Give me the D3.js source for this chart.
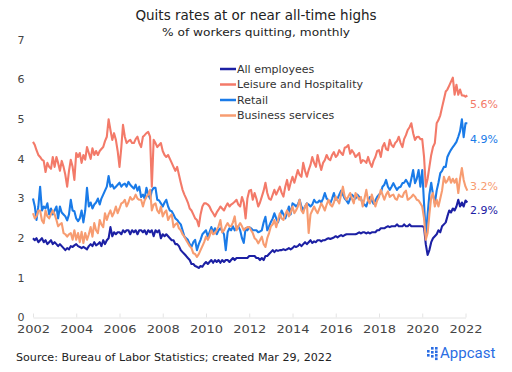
<!DOCTYPE html>
<html>
<head>
<meta charset="utf-8">
<script src="https://cdn.jsdelivr.net/npm/d3@7"></script>
<style>
  body { margin: 0; background: #fff; }
  svg { display: block; font-family: "DejaVu Sans", sans-serif; }
</style>
</head>
<body>
<svg id="chart" width="512" height="372"></svg>
<script>
// monthly quits rate, % — Jan 2002 to Feb 2022
let allEmployees = [
  2.0, 1.95, 2.0, 1.9, 1.95, 2.0, 1.9, 1.95, 1.85, 1.9, 1.95, 1.85,
  1.9, 1.85, 1.8, 1.85, 1.8, 1.75, 1.7, 1.75, 1.72, 1.8, 1.78, 1.82,
  1.85, 1.8, 1.78, 1.75, 1.78, 1.75, 1.72, 1.8, 1.85, 1.8, 1.9, 1.82,
  1.85, 1.9, 1.8, 1.95, 1.85, 1.95, 2.0, 2.28, 2.05, 2.15, 2.1, 2.15,
  2.15, 2.1, 2.2, 2.15, 2.2, 2.2, 2.1, 2.2, 2.15, 2.2, 2.1, 2.2,
  2.2, 2.15, 2.2, 2.1, 2.2, 2.15, 2.2, 2.05, 2.2, 2.15, 2.2, 2.0,
  2.1, 2.05, 2.1, 2.05, 2.0, 1.95, 1.95, 1.85, 1.85, 1.8, 1.7, 1.65,
  1.6, 1.55, 1.5, 1.45, 1.35, 1.35, 1.3, 1.28, 1.25, 1.3, 1.28, 1.35,
  1.4, 1.35, 1.4, 1.45, 1.38, 1.45, 1.4, 1.45, 1.38, 1.45, 1.4, 1.45,
  1.45, 1.4, 1.45, 1.5, 1.45, 1.5, 1.5, 1.5, 1.5, 1.5, 1.5, 1.5,
  1.55, 1.55, 1.55, 1.55, 1.5, 1.5, 1.45, 1.5, 1.45, 1.55, 1.55, 1.6,
  1.65, 1.7, 1.65, 1.7, 1.68, 1.7, 1.7, 1.72, 1.7, 1.72, 1.75, 1.72,
  1.75, 1.8, 1.78, 1.8, 1.85, 1.8, 1.85, 1.9, 1.85, 1.9, 1.95, 1.88,
  1.92, 1.9, 1.95, 1.95, 1.92, 1.95, 1.95, 1.98, 2.0, 1.98, 2.0, 2.02,
  2.05, 2.02, 2.05, 2.08, 2.05, 2.08, 2.1, 2.1, 2.1, 2.1, 2.1, 2.1,
  2.12, 2.15, 2.12, 2.15, 2.15, 2.12, 2.15, 2.12, 2.15, 2.15, 2.15, 2.2,
  2.2, 2.25, 2.25, 2.25, 2.28, 2.3, 2.28, 2.3, 2.3, 2.3, 2.35, 2.3,
  2.3, 2.3, 2.35, 2.3, 2.3, 2.35, 2.3, 2.3, 2.3, 2.3, 2.3, 2.3,
  2.3, 2.28, 1.85, 1.58, 1.7, 1.9, 2.0, 2.05, 2.1, 2.2, 2.15, 2.3,
  2.35, 2.4, 2.55, 2.7, 2.65, 2.75, 2.7, 2.8, 2.97, 2.8, 2.9, 2.8,
  2.95, 2.9
];

let leisure = [
  4.43, 4.35, 4.22, 4.1, 4.05, 3.98, 3.95, 3.67, 3.9, 3.8, 3.75, 4.05,
  3.8, 4.05, 3.9, 3.7, 3.95, 3.8, 3.6, 3.3, 3.7, 3.98, 3.8, 3.47,
  4.15, 4.05, 4.15, 3.9, 4.1, 3.98, 4.3, 4.15, 4.0, 4.27, 4.1, 4.2,
  4.1, 4.2, 4.25, 4.3, 4.45, 4.56, 5.0, 4.73, 4.48, 4.65, 4.48, 4.2,
  3.8, 4.3, 4.86, 4.56, 4.4, 4.45, 4.48, 4.4, 4.4, 4.5, 4.56, 4.4,
  4.3, 4.56, 4.6, 4.65, 4.68, 4.56, 3.3, 4.48, 4.4, 4.3, 4.35, 4.4,
  4.2, 4.1, 4.05, 4.1, 4.0, 3.9, 3.8, 3.7, 3.8, 3.6, 3.4, 3.22,
  3.1, 3.0, 2.9, 2.75, 2.7, 2.6, 2.5, 2.46, 2.3, 2.6, 2.8, 2.88,
  2.88, 2.85, 2.8, 2.7, 2.63, 2.55, 2.65, 2.72, 2.8, 2.75, 2.7, 2.8,
  2.88, 2.8, 2.85, 2.88, 2.92, 2.97, 2.85, 2.8, 3.04, 2.9, 2.5, 3.0,
  3.2, 3.22, 2.97, 3.14, 3.0, 2.8, 2.9, 3.05, 3.2, 3.4, 3.14, 3.0,
  2.97, 3.1, 3.22, 3.1, 3.2, 3.3, 3.15, 3.05, 3.3, 3.47, 3.22, 3.4,
  3.55, 3.4, 3.55, 3.72, 3.6, 3.55, 3.9, 3.7, 3.55, 3.72, 3.85, 4.05,
  3.9, 3.8, 4.1, 3.9, 3.72, 3.9, 3.97, 4.1, 4.0, 3.97, 4.1, 4.17,
  4.05, 4.1, 4.22, 4.15, 4.1, 4.28, 4.3, 4.35, 4.13, 4.22, 4.15, 4.05,
  4.1, 4.15, 3.9, 3.97, 3.95, 3.9, 4.05, 3.9, 3.8, 3.95, 4.05, 4.2,
  4.22, 4.05, 4.3, 4.4, 4.25, 4.22, 4.48, 4.35, 4.3, 4.4, 4.45, 4.56,
  4.4, 4.3, 4.5, 4.6, 4.73, 4.8, 4.9, 4.65, 4.48, 4.55, 4.56, 4.5,
  4.5, 4.05, 3.3, 3.5, 3.8, 4.1, 4.3, 4.4, 4.9, 4.98, 5.1, 5.3,
  5.5, 5.7, 5.75, 5.85, 5.95, 6.05, 5.62, 5.87, 5.62, 5.75, 5.6, 5.6,
  5.57, 5.6
];

let retail = [
  3.0, 2.8, 2.46, 2.8, 3.3, 2.7, 2.8, 2.75, 2.88, 2.6, 2.75, 2.6,
  2.7, 2.8, 2.5, 2.8, 2.65, 2.6, 2.55, 2.45, 2.6, 2.97, 2.7, 2.68,
  2.5, 2.43, 2.5, 2.7, 2.4, 2.7, 3.27, 2.8, 2.9, 2.75, 2.85, 2.9,
  3.0, 2.85, 3.0, 3.1, 3.2, 3.3, 3.57, 3.3, 3.35, 3.25, 3.3, 3.35,
  3.4, 3.3, 3.35, 3.38, 3.3, 3.42, 3.35, 3.3, 3.25, 3.35, 3.2, 3.3,
  3.04, 3.1, 3.0, 3.27, 3.1, 3.0, 3.2, 3.27, 3.27, 2.97, 2.95, 2.88,
  2.8, 2.9, 2.97, 2.8, 2.7, 2.68, 2.6, 2.5, 2.46, 2.4, 2.35, 2.2,
  2.04, 2.0, 1.96, 1.85, 1.78, 1.9, 1.96, 1.7, 1.85, 1.96, 2.1, 2.15,
  2.2, 2.04, 2.15, 2.28, 2.15, 2.25, 2.1, 2.2, 2.25, 2.18, 2.1, 1.7,
  2.15, 2.25, 2.2, 2.3, 2.2, 2.25, 2.3, 2.2, 2.0, 1.88, 2.25, 2.2,
  2.28, 2.25, 2.2, 2.2, 2.2, 2.15, 2.17, 2.2, 2.4, 2.54, 2.2, 2.3,
  2.41, 2.5, 2.63, 2.5, 2.4, 2.55, 2.7, 2.6, 2.5, 2.65, 2.8, 2.6,
  2.88, 2.85, 2.8, 2.85, 2.97, 2.8, 2.7, 2.8, 2.88, 2.85, 2.8, 2.85,
  2.97, 2.9, 2.9, 2.95, 2.9, 3.0, 3.14, 3.0, 2.95, 2.88, 3.0, 3.14,
  2.97, 3.0, 3.1, 3.2, 3.1, 3.0, 2.95, 2.88, 3.0, 3.1, 3.05, 3.0,
  3.1, 3.04, 3.0, 2.87, 2.85, 2.8, 2.95, 3.04, 2.95, 2.87, 2.95, 3.04,
  3.1, 3.14, 3.3, 3.35, 3.47, 3.3, 3.22, 3.3, 3.39, 3.3, 3.22, 3.28,
  3.3, 3.39, 3.4, 3.47, 3.4, 3.3, 3.5, 3.72, 3.39, 3.5, 3.72, 3.3,
  3.72, 2.87, 2.08, 2.6, 3.1, 3.4, 3.1, 2.88, 3.2, 3.4, 3.64, 3.7,
  3.8, 3.8, 4.05, 4.15, 4.23, 4.3, 4.36, 4.43, 4.56, 4.7, 5.0, 4.55,
  4.9, 4.9
];

let business = [
  2.63, 2.5, 2.55, 2.7, 2.7, 2.45, 2.38, 2.7, 2.55, 2.5, 2.6, 2.7,
  2.6, 2.46, 2.3, 2.35, 2.38, 2.13, 2.1, 2.04, 2.1, 2.13, 1.96, 2.2,
  1.96, 2.13, 1.9, 2.16, 1.88, 2.13, 1.96, 2.1, 2.28, 2.04, 2.38, 2.2,
  2.13, 2.46, 2.35, 2.28, 2.63, 2.46, 2.6, 2.7, 2.55, 2.65, 2.8, 2.63,
  2.75, 2.88, 2.9, 2.97, 2.8, 2.9, 3.04, 2.97, 3.0, 3.1, 3.0, 2.97,
  2.97, 2.8, 2.95, 3.04, 3.1, 3.22, 2.7, 2.85, 2.88, 2.7, 2.63, 2.8,
  2.55, 2.65, 2.7, 2.46, 2.55, 2.6, 2.28, 2.35, 2.38, 2.25, 2.2, 2.1,
  2.04, 1.95, 1.88, 1.8, 1.75, 1.62, 1.6, 1.53, 1.6, 1.7, 1.8, 1.9,
  2.04, 1.96, 2.05, 2.2, 2.1, 2.13, 2.2, 2.3, 2.46, 2.15, 2.2, 2.3,
  2.38, 2.3, 2.3, 2.4, 2.55, 2.2, 2.3, 2.38, 2.3, 2.2, 2.25, 2.28,
  2.28, 2.2, 2.13, 2.0, 1.96, 1.87, 1.95, 2.04, 1.85, 1.78, 2.0, 2.13,
  2.3, 2.35, 2.46, 2.28, 2.45, 2.63, 2.5, 2.46, 2.6, 2.7, 2.55, 2.65,
  2.8, 2.63, 2.7, 2.8, 2.97, 2.7, 2.63, 2.8, 2.88, 2.13, 2.6, 2.7,
  2.8, 2.7, 2.63, 2.75, 2.88, 2.8, 2.7, 2.85, 2.97, 2.85, 2.8, 2.9,
  3.05, 2.95, 2.88, 3.1, 3.3, 3.05, 2.97, 3.05, 3.14, 3.0, 2.88, 3.14,
  3.05, 2.97, 3.04, 2.8, 3.0, 3.22, 2.95, 2.88, 3.1, 2.95, 2.8, 2.95,
  3.04, 3.22, 3.1, 2.97, 3.1, 3.18, 3.04, 3.08, 3.1, 3.0, 2.97, 3.1,
  3.05, 3.04, 3.15, 3.2, 2.97, 3.0, 3.04, 3.1, 3.05, 2.97, 2.95, 2.88,
  2.8, 2.5, 1.96, 2.13, 2.6, 3.04, 3.14, 2.8, 2.97, 2.8, 3.0, 3.2,
  3.55, 3.4, 3.45, 3.55, 3.4, 3.5, 3.4, 3.5, 3.14, 3.5, 3.77, 3.47,
  3.3, 3.2
];

let seriesNames = ['All employees', 'Leisure and Hospitality', 'Retail', 'Business services'];
let endLabels = ['2.9%', '5.6%', '4.9%', '3.2%'];
let yearTicks = [2002, 2004, 2006, 2008, 2010, 2012, 2014, 2016, 2018, 2020, 2022];
let valueTicks = [0, 1, 2, 3, 4, 5, 6, 7];

let colors = ['#1c20a4', '#f37a69', '#1a7be8', '#f79c71'];
// labels were placed by hand in the original, so nudge them off the line ends
let labelNudge = [8, 9, 16, -4];

let svg = d3.select('#chart');
svg.append('rect').attr('width', 512).attr('height', 372).attr('fill', '#fff');

let x = d3.scaleTime()
  .domain([new Date(2002, 0, 1), new Date(2022, 0, 1)])
  .range([33, 465.5]);

let y = d3.scaleLinear()
  .domain([0, 7])
  .range([317.5, 40]);

let series = [allEmployees, leisure, retail, business].map((vals, i) => ({
  name: seriesNames[i],
  color: colors[i],
  label: endLabels[i],
  values: vals.map((v, m) => ({ date: new Date(2002, m, 1), value: v }))
}));

// title
svg.append('text')
  .attr('x', 256).attr('y', 20)
  .attr('text-anchor', 'middle')
  .attr('font-size', 13.5)
  .attr('fill', '#222')
  .text('Quits rates at or near all-time highs');

svg.append('text')
  .attr('x', 256).attr('y', 36)
  .attr('text-anchor', 'middle')
  .attr('font-size', 11)
  .attr('fill', '#222')
  .attr('textLength', 188)
  .attr('lengthAdjust', 'spacingAndGlyphs')
  .text('% of workers quitting, monthly');

// y labels (no gridlines in the original)
svg.append('g')
  .selectAll('text')
  .data(valueTicks)
  .join('text')
  .attr('x', 21)
  .attr('y', d => y(d))
  .attr('dy', '0.35em')
  .attr('text-anchor', 'middle')
  .attr('font-size', 11)
  .attr('fill', '#444')
  .text(d => d);

// x axis
let xAxis = d3.axisBottom(x)
  .tickValues(yearTicks.map(yr => new Date(yr, 0, 1)))
  .tickFormat(d3.timeFormat('%Y'))
  .tickSizeInner(-4)
  .tickSizeOuter(0)
  .tickPadding(8);

let gx = svg.append('g')
  .attr('transform', `translate(0,${y(0)})`)
  .call(xAxis);

gx.select('.domain').attr('stroke', '#e4e4e4');
gx.selectAll('.tick line').attr('stroke', '#e4e4e4');
gx.selectAll('.tick text')
  .attr('font-family', '"DejaVu Sans", sans-serif')
  .attr('font-size', 11)
  .attr('fill', '#444')
  .attr('textLength', 33)
  .attr('lengthAdjust', 'spacingAndGlyphs');

// lines
let line = d3.line()
  .x(d => x(d.date))
  .y(d => y(d.value));

svg.append('g')
  .selectAll('path')
  .data(series)
  .join('path')
  .attr('d', d => line(d.values))
  .attr('fill', 'none')
  .attr('stroke', d => d.color)
  .attr('stroke-width', 2.1)
  .attr('stroke-linejoin', 'round');

// end labels
svg.append('g')
  .selectAll('text')
  .data(series)
  .join('text')
  .attr('x', 470)
  .attr('y', (d, i) => y(d.values[d.values.length - 1].value) + labelNudge[i])
  .attr('dy', '0.35em')
  .attr('font-size', 11)
  .attr('fill', d => d.color)
  .text(d => d.label);

// legend
let legend = svg.append('g')
  .selectAll('g')
  .data(series)
  .join('g')
  .attr('transform', (d, i) => `translate(220,${69 + i * 15.5})`);

legend.append('line')
  .attr('x1', 0).attr('x2', 16)
  .attr('stroke', d => d.color)
  .attr('stroke-width', 2.5);

legend.append('text')
  .attr('x', 17)
  .attr('dy', '0.35em')
  .attr('font-size', 11)
  .attr('fill', '#333')
  .text(d => d.name);

// footer
svg.append('text')
  .attr('x', 16).attr('y', 361)
  .attr('font-size', 10.5)
  .attr('fill', '#222')
  .attr('textLength', 316)
  .attr('lengthAdjust', 'spacingAndGlyphs')
  .text('Source: Bureau of Labor Statistics; created Mar 29, 2022');

// Appcast mark
let logo = svg.append('g').attr('fill', '#2a6de3');
[[0, [3, 7]], [4, [0, 4, 8]], [8, [0, 3.5, 7, 10.5]]].forEach(([dx, ys]) => {
  ys.forEach(dy => {
    logo.append('rect')
      .attr('x', 427 + dx).attr('y', 347 + dy)
      .attr('width', 2.6).attr('height', 2.6);
  });
});
svg.append('text')
  .attr('x', 440).attr('y', 358)
  .attr('font-family', 'Roboto, sans-serif')
  .attr('font-size', 15)
  .attr('fill', '#2a6de3')
  .text('Appcast');
</script>
</body>
</html>
